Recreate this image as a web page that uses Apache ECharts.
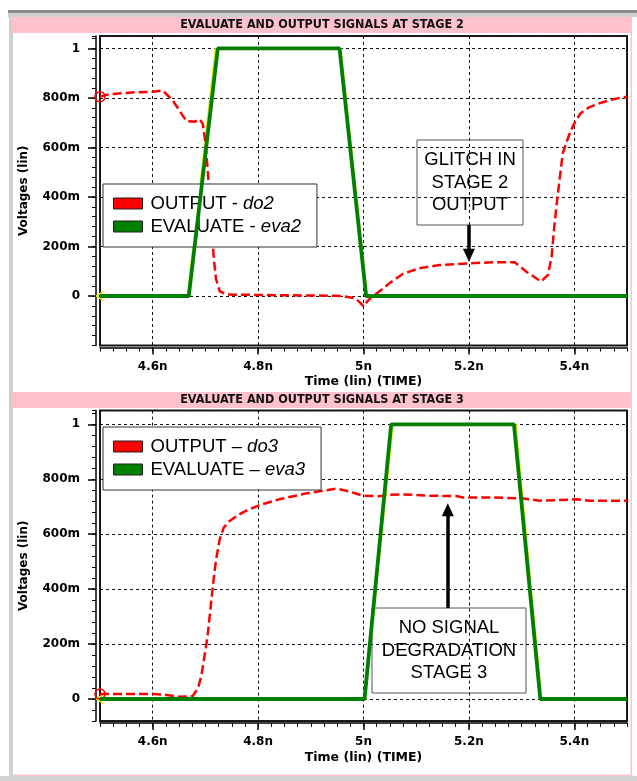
<!DOCTYPE html>
<html>
<head>
<meta charset="utf-8">
<title>Evaluate and output signals</title>
<script src="https://cdn.jsdelivr.net/npm/echarts@6/dist/echarts.min.js"></script>
<style>
  html, body { margin: 0; padding: 0; background: #fff; }
  #main { width: 637px; height: 781px; }
</style>
</head>
<body>
<div id="main"></div>
<script>
// 刻度
var timeTickValues = [4.6, 4.8, 5.0, 5.2, 5.4];
var timeTickLabels = ['4.6n', '4.8n', '5n', '5.2n', '5.4n'];
var voltTickValues = [0, 0.2, 0.4, 0.6, 0.8, 1.0];
var voltTickLabels = ['0', '200m', '400m', '600m', '800m', '1'];

// 第2级  [time(ns), voltage(V)]
var do2 = [
  [4.500, 0.805], [4.518, 0.815], [4.560, 0.822], [4.600, 0.825], [4.619, 0.830],
  [4.638, 0.790], [4.652, 0.745], [4.664, 0.706], [4.680, 0.704], [4.689, 0.714],
  [4.695, 0.695], [4.700, 0.620], [4.704, 0.520], [4.708, 0.400], [4.712, 0.270],
  [4.716, 0.150], [4.720, 0.070], [4.727, 0.020], [4.740, 0.006], [4.800, 0.004],
  [4.900, 0.002], [4.960, 0.000], [4.985, -0.010], [4.995, -0.030], [5.000, -0.042],
  [5.006, -0.025], [5.015, -0.005], [5.030, 0.018], [5.049, 0.051], [5.075, 0.090],
  [5.106, 0.112], [5.144, 0.125], [5.200, 0.132], [5.245, 0.136], [5.287, 0.136],
  [5.309, 0.098], [5.337, 0.058], [5.350, 0.085], [5.357, 0.160], [5.362, 0.280],
  [5.367, 0.380], [5.372, 0.469], [5.378, 0.575], [5.385, 0.620], [5.394, 0.671],
  [5.402, 0.705], [5.412, 0.738], [5.428, 0.762], [5.450, 0.780], [5.475, 0.795],
  [5.500, 0.805]
];
var eva2 = [[4.5, 0], [4.6685, 0], [4.7235, 1], [4.9545, 1], [5.005, 0], [5.5, 0]];
var ref2 = [[4.5, 0], [4.666, 0], [4.719, 1], [4.957, 1], [5.007, 0], [5.5, 0]];

// 第3级
var do3 = [
  [4.500, 0.018], [4.560, 0.018], [4.600, 0.018], [4.626, 0.015], [4.651, 0.008],
  [4.676, 0.011], [4.686, 0.040], [4.692, 0.082], [4.698, 0.152], [4.704, 0.228],
  [4.710, 0.335], [4.715, 0.425], [4.720, 0.505], [4.727, 0.580], [4.735, 0.625],
  [4.746, 0.648], [4.762, 0.670], [4.782, 0.690], [4.803, 0.706], [4.840, 0.727],
  [4.890, 0.748], [4.920, 0.757], [4.948, 0.766], [4.974, 0.755], [4.999, 0.740],
  [5.030, 0.738], [5.049, 0.744], [5.075, 0.745], [5.125, 0.740], [5.176, 0.739],
  [5.189, 0.734], [5.239, 0.734], [5.302, 0.730], [5.334, 0.722], [5.366, 0.724],
  [5.404, 0.727], [5.429, 0.722], [5.500, 0.722]
];
var eva3 = [[4.5, 0], [5.002, 0], [5.0525, 1], [5.2855, 1], [5.3355, 0], [5.5, 0]];
var ref3 = [[4.5, 0], [5.003, 0], [5.056, 1], [5.289, 1], [5.338, 0], [5.5, 0]];

// 箭头 [time, from, to]
var glitchArrow = [5.2, 0.287, 0.164];
var degradeArrow = [5.16, 0.331, 0.689];

var titles = ['EVALUATE AND OUTPUT SIGNALS AT STAGE 2', 'EVALUATE AND OUTPUT SIGNALS AT STAGE 3'];
var legendText = {
  do2: ['OUTPUT - ', 'do2'], eva2: ['EVALUATE - ', 'eva2'],
  do3: ['OUTPUT \u2013 ', 'do3'], eva3: ['EVALUATE \u2013 ', 'eva3']
};

var AXIS_FONT = { color: '#000', fontWeight: 'bold', fontSize: 12, fontFamily: 'DejaVu Sans' };
var PINK = '#ffc2cc';

function tickFormatter(values, labels) {
  return function (v) {
    for (var i = 0; i < values.length; i++) {
      if (Math.abs(v - values[i]) < 1e-6) return labels[i];
    }
    return '';
  };
}

// 每个面板: 主坐标轴 + 刻度尺
function makeX(g, labelMargin, nameGap) {
  return [{
    type: 'value', gridIndex: g, min: 4.5, max: 5.5, splitNumber: 5,
    position: 'bottom', offset: 2,
    axisLine: { show: false, onZero: false },
    axisTick: { show: true, length: 7, lineStyle: { color: '#000', width: 1.5 } },
    axisLabel: Object.assign({ formatter: tickFormatter(timeTickValues, timeTickLabels),
      margin: labelMargin, showMinLabel: false, showMaxLabel: false }, AXIS_FONT),
    splitLine: { show: true, lineStyle: { color: '#111', type: [3, 3], width: 1 } },
    name: 'Time (lin) (TIME)', nameLocation: 'middle', nameGap: nameGap,
    nameTextStyle: Object.assign({}, AXIS_FONT, { fontSize: 12.5 })
  }, {
    type: 'value', gridIndex: g, min: 4.5, max: 5.5, interval: 0.025,
    position: 'bottom', offset: 2,
    axisLine: { show: true, onZero: false, lineStyle: { color: '#000', width: 1.5 } },
    axisTick: { show: true, length: 4, lineStyle: { color: '#000', width: 1 } },
    axisLabel: { show: false },
    splitLine: { show: false }
  }];
}

function makeY(g, min, opts) {
  var main = {
    type: 'value', gridIndex: g, min: min, max: 1.05,
    position: 'left', offset: 4,
    axisLine: { show: false, onZero: false },
    axisTick: { show: true, length: 8, lineStyle: { color: '#000', width: 1.5 } },
    axisLabel: Object.assign({ formatter: tickFormatter(voltTickValues, voltTickLabels),
      margin: 16, showMinLabel: false, showMaxLabel: false }, AXIS_FONT),
    splitLine: { show: true, lineStyle: { color: '#111', type: [3, 3], width: 1 } },
    name: 'Voltages (lin)', nameLocation: 'middle', nameGap: 66,
    nameTextStyle: Object.assign({}, AXIS_FONT)
  };
  Object.assign(main, opts);
  return [main, {
    type: 'value', gridIndex: g, min: min, max: 1.05, interval: 0.04,
    position: 'left', offset: 4,
    axisLine: { show: true, onZero: false, lineStyle: { color: '#000', width: 1.5 } },
    axisTick: { show: true, length: 4, lineStyle: { color: '#000', width: 1 } },
    axisLabel: { show: false },
    splitLine: { show: false }
  }];
}

function firstMarker(points, symbol, size, color) {
  return points.map(function (p, i) {
    if (i !== 0) return p;
    return { value: p, symbol: symbol, symbolSize: size,
      itemStyle: { color: 'rgba(0,0,0,0)', borderColor: color, borderWidth: 1.5 } };
  });
}

function arrowMark(a) {
  return {
    silent: true, symbol: ['none', 'triangle'], symbolSize: [12, 13],
    label: { show: false },
    lineStyle: { color: '#000', width: 3.5, type: 'solid' },
    emphasis: { disabled: true },
    data: [[{ coord: [a[0], a[1]] }, { coord: [a[0], a[2]] }]]
  };
}

function panelSeries(g, refPts, outName, outPts, evaName, evaPts, arrow) {
  return [{
    name: 'ref' + g, type: 'line', xAxisIndex: g * 2, yAxisIndex: g * 2,
    data: firstMarker(refPts, 'path://M8,0 L0,5 L8,10', [7, 9], '#f0e800'),
    symbol: 'none', lineStyle: { color: '#f0e800', width: 1.5 }, itemStyle: { color: '#f0e800' },
    silent: true, z: 2
  }, {
    name: outName, type: 'line', xAxisIndex: g * 2, yAxisIndex: g * 2,
    data: firstMarker(outPts, 'circle', 10, '#ff0000'),
    symbol: 'none', lineStyle: { color: '#ff0000', width: 2.5, type: [9, 4] },
    itemStyle: { color: '#ff0000' }, silent: true, z: 3
  }, {
    name: evaName, type: 'line', xAxisIndex: g * 2, yAxisIndex: g * 2,
    data: evaPts, symbol: 'none', lineStyle: { color: '#008000', width: 3.8 },
    itemStyle: { color: '#008000' }, silent: true, z: 4,
    markLine: arrowMark(arrow)
  }];
}

function makeLegend(names, top) {
  return {
    data: names, orient: 'vertical', left: 103, top: top,
    selectedMode: false, icon: 'rect', itemWidth: 29, itemHeight: 11, itemGap: 2,
    padding: [9, 16, 10, 10],
    backgroundColor: '#fff', borderColor: '#333', borderWidth: 1, borderRadius: 0,
    itemStyle: { borderColor: '#222', borderWidth: 1 },
    formatter: function (name) { return legendText[name][0] + '{i|' + legendText[name][1] + '}'; },
    textStyle: { color: '#000', fontSize: 18.5, lineHeight: 21, fontFamily: 'Liberation Sans',
      padding: [0, 0, 0, 3], rich: { i: { fontStyle: 'italic', fontSize: 18.5, fontFamily: 'Liberation Sans' } } }
  };
}

function noteBox(x, y, w, h, text) {
  return {
    type: 'group', z: 100, children: [{
      type: 'rect', shape: { x: x, y: y, width: w, height: h },
      style: { fill: '#fff', stroke: '#555', lineWidth: 1 }
    }, {
      type: 'text', x: x + w / 2, y: y + h / 2,
      style: { text: text, align: 'center', verticalAlign: 'middle', fill: '#000',
        font: '18.5px "Liberation Sans"', lineHeight: 22.5 }
    }]
  };
}

function titleBand(y, text) {
  return [{
    type: 'rect', shape: { x: 12, y: y, width: 620, height: 16 }, style: { fill: PINK }
  }, {
    type: 'text', x: 322, y: y + 8,
    style: { text: text, align: 'center', verticalAlign: 'middle', fill: '#111',
      font: 'bold 12.5px "Liberation Sans Narrow", "DejaVu Sans Condensed", sans-serif' }
  }];
}

var chrome = [
  { type: 'rect', shape: { x: 8, y: 10, width: 629, height: 3 }, style: { fill: '#8c8c8c' } },
  { type: 'rect', shape: { x: 8, y: 13, width: 629, height: 4 }, style: { fill: '#cfcfcf' } },
  { type: 'rect', shape: { x: 9, y: 17, width: 4, height: 759 }, style: { fill: '#cfcfcf' } },
  { type: 'rect', shape: { x: 630.5, y: 17, width: 1.5, height: 759 }, style: { fill: PINK } },
  { type: 'rect', shape: { x: 13, y: 774.5, width: 619, height: 1.5 }, style: { fill: PINK } },
  { type: 'rect', shape: { x: 0, y: 776, width: 637, height: 5 }, style: { fill: '#d2d2d2' } }
].concat(titleBand(17, titles[0]), titleBand(392, titles[1]), [
  noteBox(417, 140, 106, 85, 'GLITCH IN\nSTAGE 2\nOUTPUT'),
  noteBox(372, 608, 154, 85, 'NO SIGNAL\nDEGRADATION\nSTAGE 3')
]);

var chart = echarts.init(document.getElementById('main'), null, { renderer: 'canvas' });
chart.setOption({
  animation: false,
  backgroundColor: '#fff',
  grid: [
    { left: 100, top: 36, width: 527, height: 309.5, show: true,
      backgroundColor: '#fff', borderColor: '#1a1a1a', borderWidth: 2 },
    { left: 100, top: 410.6, width: 527, height: 310.4, show: true,
      backgroundColor: '#fff', borderColor: '#1a1a1a', borderWidth: 2 }
  ],
  xAxis: makeX(0, 13, 28).concat(makeX(1, 13, 28)),
  yAxis: makeY(0, -0.2, { interval: 0.2 }).concat(makeY(1, -0.08, { splitNumber: 5 })),
  legend: [makeLegend(['do2', 'eva2'], 184), makeLegend(['do3', 'eva3'], 427)],
  series: panelSeries(0, ref2, 'do2', do2, 'eva2', eva2, glitchArrow)
    .concat(panelSeries(1, ref3, 'do3', do3, 'eva3', eva3, degradeArrow)),
  graphic: chrome
});
</script>
</body>
</html>
